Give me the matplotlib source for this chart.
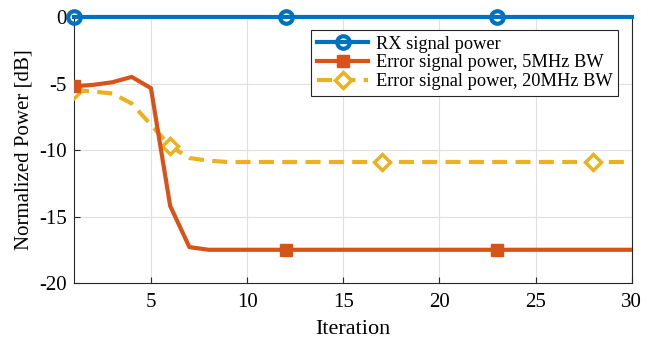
import matplotlib.pyplot as plt

plt.rcParams['font.family'] = ['Liberation Serif', 'DejaVu Serif']
plt.rcParams['axes.unicode_minus'] = False

# Data
iterations = list(range(1, 31))
rx_power = [0] * 30
err_5mhz = [-5.2, -5.1, -4.9, -4.5, -5.35, -14.2, -17.3, -17.5] + [-17.5] * 22
err_20mhz = [-5.5, -5.6, -5.75, -6.5, -8.1, -9.7, -10.6, -10.8] + [-10.9] * 22

fig = plt.figure(figsize=(6.52, 3.41), dpi=100)
ax = fig.add_axes([0.1135, 0.17, 0.8555, 0.78])

ax.plot(iterations, rx_power, color='#0072BD', linewidth=3, marker='o', markersize=9,
        markerfacecolor='none', markeredgewidth=3, markevery=[0, 11, 22],
        label='RX signal power', clip_on=False, zorder=5)
ax.plot(iterations, err_5mhz, color='#D95319', linewidth=3, marker='s', markersize=8,
        markevery=[0, 11, 22], label='Error signal power, 5MHz BW', zorder=4)
ax.plot(iterations, err_20mhz, color='#EDB120', linewidth=3, linestyle=(0, (3.6, 2)),
        marker='D', markersize=8, markerfacecolor='white', markeredgewidth=2.5,
        markevery=[0, 5, 16, 27], label='Error signal power, 20MHz BW', zorder=3)

ax.set_xlim(1, 30)
ax.set_ylim(-20, 0)
ax.set_xticks([5, 10, 15, 20, 25, 30])
ax.set_yticks([-20, -15, -10, -5, 0])
ax.tick_params(direction='in', labelsize=15, color='#262626', length=4)
ax.tick_params(axis='x', pad=7)
ax.tick_params(axis='y', pad=5)
ax.set_xlabel('Iteration', fontsize=16, labelpad=6)
ax.set_ylabel('Normalized Power [dB]', fontsize=15, labelpad=4)
ax.grid(color='#E0E0E0', linewidth=0.8)
ax.set_axisbelow(True)
for s in ax.spines.values():
    s.set_color('#262626')
    s.set_linewidth(0.8)

leg = ax.legend(loc='upper right', bbox_to_anchor=(0.975, 0.951), borderaxespad=0,
                fontsize=13.2, fancybox=False, edgecolor='#262626', framealpha=1,
                borderpad=0.3, labelspacing=0.1, handlelength=2.8, handletextpad=0.4)
leg.get_frame().set_linewidth(0.8)

fig.savefig('out.png', dpi=100)
